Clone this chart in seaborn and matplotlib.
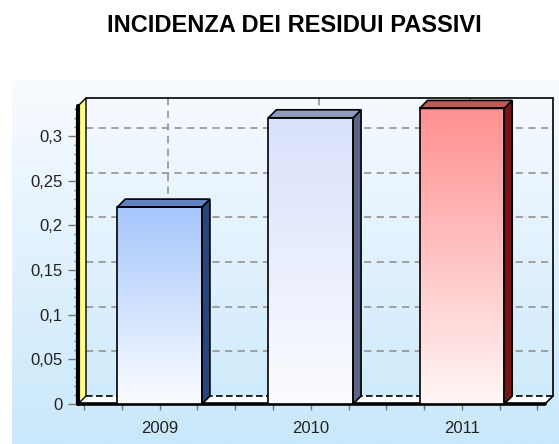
import numpy as np
import pandas as pd
import matplotlib
matplotlib.use("Agg")
import matplotlib.pyplot as plt
import seaborn as sns
from matplotlib.patches import Polygon
from matplotlib.colors import LinearSegmentedColormap
from matplotlib.ticker import MultipleLocator, FixedLocator

# Data
years = ["2009", "2010", "2011"]
values = [0.2205, 0.3205, 0.331]
y_ticks = [0, 0.05, 0.1, 0.15, 0.2, 0.25, 0.3]
y_tick_labels = ["0", "0,05", "0,1", "0,15", "0,2", "0,25", "0,3"]

# Bar styling (front gradient top/bottom, side face, top face)
face_top = ["#a6c6fc", "#d9e1fb", "#ff9090"]
face_bottom = ["#fbfdff", "#fbfcff", "#fff6f6"]
side_colors = ["#27467f", "#5a6585", "#7a1414"]
cap_colors = ["#6283c2", "#8f9cbd", "#c25757"]

W, H, DPI = 559, 444, 100
DEPTH = 8  # 3D depth of the walls and bars, in pixels

sns.set_theme(style="white")
plt.rcParams["font.family"] = ["Liberation Sans", "DejaVu Sans"]

fig = plt.figure(figsize=(W / DPI, H / DPI), dpi=DPI)
fig.patch.set_facecolor("white")

# Gradient panel behind the chart
bg = fig.add_axes([12 / W, 0, (W - 12) / W, 364 / H], zorder=0)
grad = np.linspace(0, 1, 256)[:, None]
bg.imshow(grad, aspect="auto", extent=[0, 1, 0, 1],
          cmap=LinearSegmentedColormap.from_list("bg", ["#f8fbff", "#c9e8fb"]))
bg.axis("off")

# Front frame of the plot area (pixels from top-left)
fx0, fx1, fy0, fy1 = 78, 545, 404, 106
ax = fig.add_axes([fx0 / W, (H - fy0) / H, (fx1 - fx0) / W, (fy0 - fy1) / H], zorder=1)
ax.patch.set_alpha(0)

XLIM = (-0.54, 2.55)
YLIM = (0, 0.3337)

df = pd.DataFrame({"year": years, "value": values})
sns.barplot(data=df, x="year", y="value", hue="year", palette=face_top,
            width=0.56, saturation=1, legend=False, ax=ax)

# depth in data units
kx = (fx1 - fx0) / (XLIM[1] - XLIM[0])
ky = (fy0 - fy1) / (YLIM[1] - YLIM[0])
dx = DEPTH / kx
dy = DEPTH / ky

grid_kw = dict(color="#9a9a9a", lw=1.3, ls=(0, (4, 3)), zorder=1.5, clip_on=False)

# Back wall gridlines
for yv in y_ticks[1:]:
    ax.plot([XLIM[0] + dx, XLIM[1] + dx], [yv + dy, yv + dy], **grid_kw)
for c in range(len(years)):
    ax.plot([c + dx, c + dx], [dy, YLIM[1] + dy], **grid_kw)

# Back wall border
ax.plot([XLIM[0] + dx, XLIM[1] + dx], [YLIM[1] + dy] * 2, color="black", lw=1.2, zorder=2, clip_on=False)
ax.plot([XLIM[1] + dx] * 2, [dy, YLIM[1] + dy], color="black", lw=1.2, zorder=2, clip_on=False)

# Floor
ax.add_patch(Polygon([(XLIM[0], 0), (XLIM[1], 0), (XLIM[1] + dx, dy), (XLIM[0] + dx, dy)],
                     closed=True, fc="white", ec="none", zorder=2, clip_on=False))
ax.plot([XLIM[0] + dx, XLIM[1] + dx], [dy, dy], color="black", lw=1.2, ls=(0, (4, 2)), zorder=2.5, clip_on=False)
ax.plot([XLIM[1], XLIM[1] + dx], [0, dy], color="black", lw=1.2, zorder=2.5, clip_on=False)
ax.plot([XLIM[0], XLIM[1]], [0, 0], color="black", lw=2.6, zorder=3, clip_on=False)

# Left wall
ax.add_patch(Polygon([(XLIM[0], 0), (XLIM[0], YLIM[1]), (XLIM[0] + dx, YLIM[1] + dy), (XLIM[0] + dx, dy)],
                     closed=True, fc="#ffff80", ec="black", lw=1.0, zorder=3, clip_on=False))
ax.plot([XLIM[0]] * 2, [0, YLIM[1]], color="black", lw=3, zorder=3.5, clip_on=False)

# Bars: gradient front, shaded side and top faces
bars = sorted(ax.patches[:len(years)], key=lambda p: p.get_x())
for i, p in enumerate(bars):
    x, w, h = p.get_x(), p.get_width(), p.get_height()
    p.set_facecolor("none")
    p.set_edgecolor("black")
    p.set_linewidth(1.2)
    p.set_zorder(6)
    cmap = LinearSegmentedColormap.from_list(f"bar{i}", [face_top[i], face_bottom[i]])
    ax.imshow(grad, extent=[x, x + w, 0, h], aspect="auto", cmap=cmap, zorder=5)
    ax.add_patch(Polygon([(x + w, 0), (x + w, h), (x + w + dx, h + dy), (x + w + dx, dy)],
                         closed=True, fc=side_colors[i], ec="black", lw=1.2, zorder=5.5, clip_on=False))
    ax.add_patch(Polygon([(x, h), (x + w, h), (x + w + dx, h + dy), (x + dx, h + dy)],
                         closed=True, fc=cap_colors[i], ec="black", lw=1.2, zorder=5.5, clip_on=False))

ax.set_xlim(*XLIM)
ax.set_ylim(*YLIM)
ax.set_aspect("auto")
for s in ax.spines.values():
    s.set_visible(False)

ax.set_xlabel("")
ax.set_ylabel("")
ax.set_yticks(y_ticks)
ax.set_yticklabels(y_tick_labels)
ax.yaxis.set_minor_locator(MultipleLocator(0.01))
ax.set_xticks(range(len(years)))
ax.set_xticklabels(years)
ax.xaxis.set_minor_locator(FixedLocator(np.arange(-0.5, 2.51, 0.25)))

ax.tick_params(axis="y", which="major", left=True, direction="out", length=7, width=1,
               color="#777777", labelsize=12, labelcolor="#222222", pad=4)
ax.tick_params(axis="y", which="minor", left=True, direction="out", length=3, width=1, color="#777777")
ax.tick_params(axis="x", which="major", bottom=True, direction="out", length=4, width=1,
               color="#777777", labelsize=12, labelcolor="#222222", pad=8)
ax.tick_params(axis="x", which="minor", bottom=True, direction="out", length=4, width=1, color="#777777")

fig.text(294 / W, 1 - 26 / H, "INCIDENZA DEI RESIDUI PASSIVI", ha="center", va="center",
         fontsize=17, fontweight="bold", color="black")

fig.savefig("out.png", dpi=DPI)
